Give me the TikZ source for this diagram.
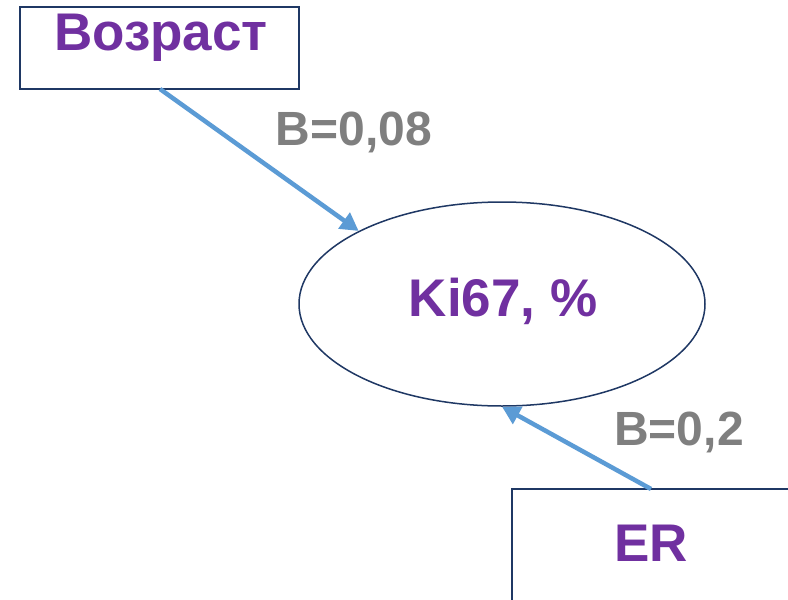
\documentclass[tikz,border=0pt]{standalone}
\usepackage{fontspec}
\setmainfont{Liberation Sans}
\usetikzlibrary{shapes.geometric,arrows.meta}
\definecolor{txtpurple}{HTML}{7030A0}
\definecolor{boxline}{HTML}{1F3864}
\definecolor{arrowblue}{HTML}{5B9BD5}
\definecolor{labgray}{HTML}{7F7F7F}
\begin{document}
\begin{tikzpicture}[x=1pt,y=-1pt,
  box/.style={draw=boxline,line width=1.8pt,rectangle,inner sep=0pt},
  maintext/.style={text=txtpurple,font=\fontsize{53}{53}\selectfont\bfseries,inner sep=0pt},
  coef/.style={text=labgray,font=\fontsize{48}{48}\selectfont\bfseries,inner sep=0pt},
  link/.style={draw=arrowblue,line width=4.5pt,-{Triangle[length=18pt,width=19pt]}}]
\useasboundingbox (0,0) rectangle (788,600);
\fill[white] (0,0) rectangle (788,600);
\node[box,minimum width=279pt,minimum height=82pt] (voz) at (159.5,48) {};
\node[maintext] (voztext) at (161,38) {Возраст};
\node[draw=boxline,line width=1.5pt,ellipse,minimum width=406pt,minimum height=204pt,inner sep=0pt] (ki) at (502,304) {};
\node[maintext] (kitext) at (503,301) {Ki67, \%};
\node[box,minimum width=300pt,minimum height=140pt] (er) at (662,559) {};
\node[maintext] (ertext) at (651,543) {ER};
\coordinate (vozout) at (160,89);
\coordinate (erout) at (651,489);
\draw[link] (vozout) -- (ki.153.4);
\draw[link] (erout) -- (ki.270);
\node[coef] (b1) at (354,132) {B=0,08};
\node[coef] (b2) at (679,432) {B=0,2};
\end{tikzpicture}
\end{document}
